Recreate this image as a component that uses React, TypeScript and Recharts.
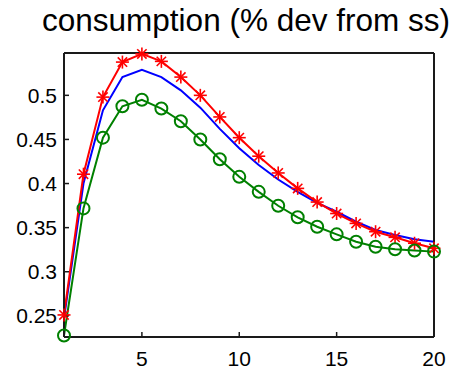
import { LineChart, Line, XAxis, YAxis } from "recharts";

const periods = [1, 2, 3, 4, 5, 6, 7, 8, 9, 10, 11, 12, 13, 14, 15, 16, 17, 18, 19, 20];
const blueSeries = [0.247, 0.4, 0.483, 0.5207, 0.529, 0.5207, 0.5057, 0.486, 0.462, 0.44, 0.421, 0.4046, 0.3906, 0.378, 0.368, 0.3567, 0.3473, 0.3417, 0.3368, 0.334];
const redSeries = [0.251, 0.4106, 0.498, 0.5377, 0.547, 0.5385, 0.5207, 0.5, 0.4755, 0.452, 0.431, 0.412, 0.3945, 0.379, 0.366, 0.3548, 0.3454, 0.339, 0.3323, 0.3266];
const greenSeries = [0.2277, 0.3718, 0.452, 0.4876, 0.495, 0.485, 0.4706, 0.45, 0.4276, 0.4076, 0.3906, 0.3748, 0.3617, 0.351, 0.3424, 0.334, 0.3284, 0.3255, 0.324, 0.3228];
const xTicks = [5, 10, 15, 20];
const yTicks = [0.25, 0.3, 0.35, 0.4, 0.45, 0.5];

const data = periods.map((p, i) => ({
  period: p,
  blue: blueSeries[i],
  red: redSeries[i],
  green: greenSeries[i],
}));

const FONT = "'Liberation Sans', Arial, Helvetica, sans-serif";
const AXIS = "#1a1a1a";

// matlab style '*' marker
const StarDot = (props: any) => {
  const { cx, cy, index } = props;
  if (cx == null || cy == null) return <g key={index} />;
  const r = 6.5;
  const d = r * 0.72;
  return (
    <g key={index} stroke="#ff0000" strokeWidth={1.6}>
      <line x1={cx - r} y1={cy} x2={cx + r} y2={cy} />
      <line x1={cx} y1={cy - r} x2={cx} y2={cy + r} />
      <line x1={cx - d} y1={cy - d} x2={cx + d} y2={cy + d} />
      <line x1={cx - d} y1={cy + d} x2={cx + d} y2={cy - d} />
    </g>
  );
};

const CircleDot = (props: any) => {
  const { cx, cy, index } = props;
  if (cx == null || cy == null) return <g key={index} />;
  return <circle key={index} cx={cx} cy={cy} r={6} fill="none" stroke="#008000" strokeWidth={2} />;
};

const tickStyle = { fontSize: 21, fill: "#000", fontFamily: FONT };

export default function App() {
  return (
    <div style={{ position: "absolute", left: 0, top: 0, width: 452, height: 372, background: "#fff" }}>
      <div
        style={{
          position: "absolute",
          left: 40,
          width: 412,
          top: 5,
          textAlign: "center",
          fontFamily: FONT,
          fontSize: 31.5,
          lineHeight: 1,
          color: "#000",
          whiteSpace: "nowrap",
        }}
      >
        consumption (% dev from ss)
      </div>
      <LineChart width={452} height={372} data={data} margin={{ top: 48, right: 0, bottom: 0, left: 0 }}>
        <XAxis
          dataKey="period"
          type="number"
          domain={[1, 20]}
          ticks={xTicks}
          height={35}
          tickSize={-5}
          tickMargin={19}
          tick={tickStyle}
          axisLine={{ stroke: AXIS, strokeWidth: 2 }}
          tickLine={{ stroke: AXIS, strokeWidth: 1.5 }}
        />
        <XAxis
          xAxisId="top"
          orientation="top"
          dataKey="period"
          type="number"
          domain={[1, 20]}
          ticks={xTicks}
          height={5}
          tickSize={-5}
          tick={false}
          axisLine={{ stroke: AXIS, strokeWidth: 2 }}
          tickLine={{ stroke: AXIS, strokeWidth: 1.5 }}
        />
        <YAxis
          type="number"
          domain={[0.226, 0.548]}
          ticks={yTicks}
          width={64}
          tickSize={-5}
          tickMargin={12}
          tick={tickStyle}
          axisLine={{ stroke: AXIS, strokeWidth: 2 }}
          tickLine={{ stroke: AXIS, strokeWidth: 1.5 }}
        />
        <YAxis
          yAxisId="right"
          orientation="right"
          type="number"
          domain={[0.226, 0.548]}
          ticks={yTicks}
          width={18}
          tickSize={-5}
          tick={false}
          axisLine={{ stroke: AXIS, strokeWidth: 2 }}
          tickLine={{ stroke: AXIS, strokeWidth: 1.5 }}
        />
        <Line dataKey="blue" stroke="#0000ff" strokeWidth={2} dot={false} isAnimationActive={false} />
        <Line dataKey="red" stroke="#ff0000" strokeWidth={2} dot={StarDot} isAnimationActive={false} />
        <Line dataKey="green" stroke="#008000" strokeWidth={2} dot={CircleDot} isAnimationActive={false} />
      </LineChart>
    </div>
  );
}
